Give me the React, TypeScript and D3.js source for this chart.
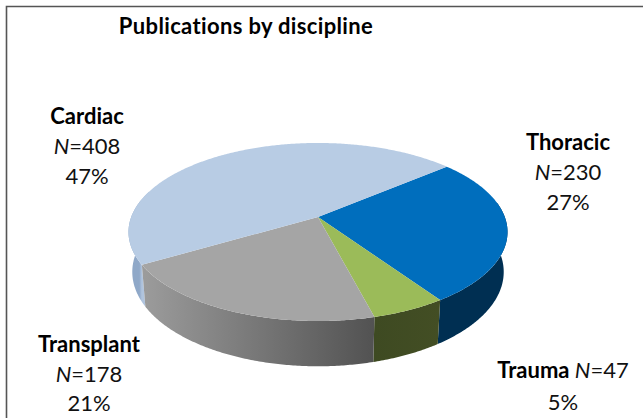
import React from "react";
import * as d3 from "d3";

const categories = ["Thoracic", "Trauma", "Transplant", "Cardiac"];
const counts = [230, 47, 178, 408];
const percents = ["27%", "5%", "21%", "47%"];
const topColors = ["#006ebd", "#9bbb59", "#a5a5a5", "#b8cce4"];
const titleText = "Publications by discipline";

const W = 643, H = 418;
const apexX = 318, apexY = 217;
const a = 186.8, b = 86.5, k = 0.1685;

type P = [number, number];
function top(t: number): P {
  const X = Math.sin(t), Y = -Math.cos(t);
  const w = 1 - k * Y;
  return [apexX + (a * X) / w, apexY + (b * Y) / w];
}
function bottom(t: number): P {
  const [x, y] = top(t);
  return [apexX + (x - apexX) * 0.98, y + 39 + (y - apexY) * 0.06];
}
function range(t0: number, t1: number): number[] {
  const n = Math.max(2, Math.ceil(Math.abs(t1 - t0) / 0.01));
  return d3.range(n + 1).map((i) => t0 + ((t1 - t0) * i) / n);
}
const line = d3.line<P>().x((d) => d[0]).y((d) => d[1]);

const rad = (d: number) => (d * Math.PI) / 180;
const pie = d3
  .pie<number>()
  .sort(null)
  .startAngle(rad(49.8))
  .endAngle(rad(49.8) + 2 * Math.PI);
const arcs = pie(counts);

const sideStops: [string, string][] = [
  ["#002f52", "#002f52"],
  ["#3e4a22", "#434e24"],
  ["#9c9c9c", "#525252"],
  ["#8fa8c8", "#b0c4de"],
];

type Part = { t: string; bold?: boolean; italic?: boolean };
const labels: { x: number; y: number[]; lines: Part[][] }[] = [
  {
    x: 568,
    y: [150, 180, 210],
    lines: [
      [{ t: categories[0], bold: true }],
      [{ t: "N", italic: true }, { t: `=${counts[0]}` }],
      [{ t: percents[0] }],
    ],
  },
  {
    x: 563,
    y: [378, 410],
    lines: [
      [{ t: categories[1] + " ", bold: true }, { t: "N", italic: true }, { t: `=${counts[1]}` }],
      [{ t: percents[1] }],
    ],
  },
  {
    x: 89,
    y: [352, 382, 411],
    lines: [
      [{ t: categories[2], bold: true }],
      [{ t: "N", italic: true }, { t: `=${counts[2]}` }],
      [{ t: percents[2] }],
    ],
  },
  {
    x: 87,
    y: [124, 154, 184],
    lines: [
      [{ t: categories[3], bold: true }],
      [{ t: "N", italic: true }, { t: `=${counts[3]}` }],
      [{ t: percents[3] }],
    ],
  },
];

export default function App() {
  const sideOrder = [3, 0, 1, 2];
  return (
    <svg
      width={W}
      height={H}
      viewBox={`0 0 ${W} ${H}`}
      style={{
        position: "absolute",
        left: 0,
        top: 0,
        background: "#fff",
        fontVariantLigatures: "none",
      }}
      fontFamily="Lato, Carlito, sans-serif"
    >
      <defs>
        {arcs.map((d, i) => {
          const vis0 = Math.max(d.startAngle, rad(90));
          const vis1 = Math.min(d.endAngle, rad(280));
          return (
            <linearGradient
              key={i}
              id={`side${i}`}
              gradientUnits="userSpaceOnUse"
              x1={top(vis0)[0]}
              x2={top(vis1)[0]}
              y1={0}
              y2={0}
            >
              <stop offset="0" stopColor={sideStops[i][1]} />
              <stop offset="1" stopColor={sideStops[i][0]} />
            </linearGradient>
          );
        })}
      </defs>
      <path d={`M6.5,${H} V6.5 H${W}`} fill="none" stroke="#555" strokeWidth={1.6} />
      <text
        x={246}
        y={34}
        textAnchor="middle"
        fontSize={22}
        letterSpacing={0.35}
        fontWeight={700}
        fill="#000"
      >
        {titleText}
      </text>
      {sideOrder.map((i) => {
        const d = arcs[i];
        const t0 = Math.max(d.startAngle, rad(80));
        const t1 = Math.min(d.endAngle, rad(288));
        if (t1 <= t0) return null;
        const ts = range(t0, t1);
        const pts: P[] = [...ts.map(top), ...ts.slice().reverse().map(bottom)];
        return (
          <path key={`s${i}`} d={(line(pts) as string) + "Z"} fill={`url(#side${i})`} />
        );
      })}
      {arcs.map((d, i) => {
        const pts: P[] = [[apexX, apexY], ...range(d.startAngle, d.endAngle).map(top)];
        return <path key={`t${i}`} d={(line(pts) as string) + "Z"} fill={topColors[i]} />;
      })}
      {labels.map((l, i) => (
        <text key={i} textAnchor="middle" fontSize={22} fill="#111">
          {l.lines.map((ln, j) => (
            <tspan key={j} x={l.x} y={l.y[j]}>
              {ln.map((p, m) => (
                <tspan
                  key={m}
                  fontWeight={p.bold ? 700 : 400}
                  fontStyle={p.italic ? "italic" : "normal"}
                  fill={p.bold ? "#000" : "#111"}
                >
                  {p.t}
                </tspan>
              ))}
            </tspan>
          ))}
        </text>
      ))}
    </svg>
  );
}
